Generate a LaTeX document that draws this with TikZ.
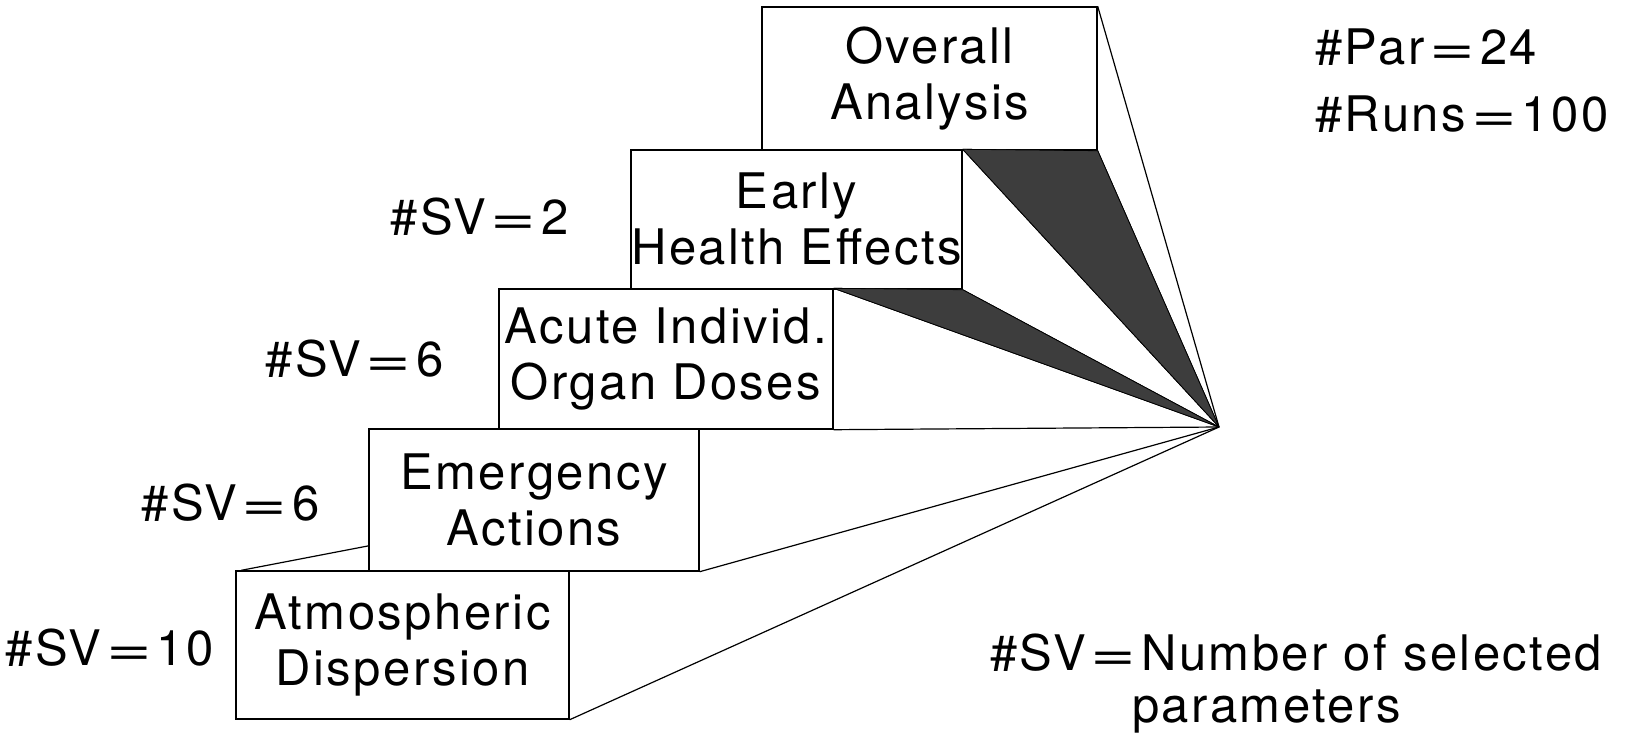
\documentclass[tikz,border=0pt]{standalone}
\usepackage{fontspec}
\usepackage{graphicx}
\setmainfont{TeX Gyre Heros}[LetterSpace=5]
\usetikzlibrary{calc}
\newcommand\eq{\kern0.1em\scalebox{1.6}[1]{=}\kern0.1em}
\begin{document}
\begin{tikzpicture}[x=1pt,y=-1pt,
  stagebox/.style={draw, line width=1.4pt, inner sep=0pt, align=center,
    font=\fontsize{49}{56}\selectfont},
  lbl/.style={inner sep=0pt, font=\fontsize{49}{56}\selectfont},
  link/.style={line width=1.2pt, line join=miter},
  wedge/.style={fill=black!76, draw=black, line width=0.8pt, line join=round}]
\useasboundingbox (0,0) rectangle (1629,747);

% the apex where all stages converge
\coordinate (apex) at (1219,427);

% the staircase of analysis stages
\node[stagebox, minimum width=335pt, minimum height=143pt] (ovr) at (929.5,78.5) {Overall\\Analysis};
\node[stagebox, minimum width=331pt, minimum height=139pt] (ear) at (796.5,219.5) {Early\\Health Effects};
\node[stagebox, minimum width=334pt, minimum height=140pt] (acu) at (666,359) {Acute Individ.\\Organ Doses};
\node[stagebox, minimum width=330pt, minimum height=142pt] (emg) at (534,500) {Emergency\\Actions};
\node[stagebox, minimum width=333pt, minimum height=148pt] (atm) at (402.5,645) {Atmospheric\\Dispersion};

% shaded wedges between the upper stages
\fill[wedge] (ear.north east) -- (ovr.south east) -- (apex) -- cycle;
\fill[wedge] (acu.north east) -- (ear.south east) -- (apex) -- cycle;
\draw[wedge] (ear.north east) -- (ovr.south east) -- (apex) -- cycle;
\draw[wedge] (acu.north east) -- (ear.south east) -- (apex) -- cycle;

% converging edges
\draw[link] (ovr.north east) -- (apex);
\draw[link] (acu.south east) -- (apex);
\draw[link] (emg.south east) -- (apex);
\draw[link] (atm.south east) -- (apex);
\draw[link] ($(atm.north west)+(6,0)$) -- ($(emg.south west)!0.18!(emg.north west)$);

% number of selected variables per stage
\node[lbl, anchor=base east] (sv2) at (569,234) {\#SV\eq2};
\node[lbl, anchor=base east] (sv6a) at (444,376) {\#SV\eq6};
\node[lbl, anchor=base east] (sv6b) at (320,520) {\#SV\eq6};
\node[lbl, anchor=base east] (sv10) at (214,665) {\#SV\eq10};

% overall figures and legend
\node[lbl, anchor=base west] (par) at (1315,64) {\#Par\eq24};
\node[lbl, anchor=base west] (runs) at (1315,131) {\#Runs\eq100};
\node[lbl, anchor=base west] (svdef) at (990,670) {\#SV\eq Number of selected};
\node[lbl, anchor=base west] (svdef2) at (1132,722) {parameters};
\end{tikzpicture}
\end{document}
